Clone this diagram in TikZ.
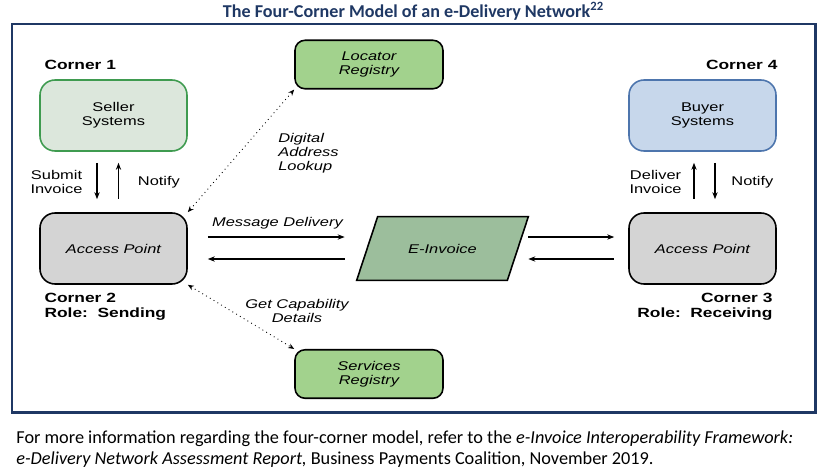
\documentclass[tikz,border=0pt]{standalone}
\usepackage{fontspec}
\setmainfont{Carlito}
\newfontfamily\diagfont[FakeStretch=1.3]{Liberation Sans}
\usepackage{xcolor}
\usetikzlibrary{positioning, arrows.meta, backgrounds}

\definecolor{framenavy}{HTML}{1F3864}
\definecolor{sellerfill}{HTML}{DCE7DC}
\definecolor{sellerline}{HTML}{3F9B50}
\definecolor{buyerfill}{HTML}{C7D7EB}
\definecolor{buyerline}{HTML}{4D75AD}
\definecolor{apfill}{HTML}{D4D4D4}
\definecolor{regfill}{HTML}{A2D28D}
\definecolor{invfill}{HTML}{9CBE9C}

\begin{document}
\begin{tikzpicture}[x=0.02cm, y=-0.02cm, >={Stealth[length=4pt, width=3pt]},
    lbl/.style={font=\diagfont\fontsize{7.2}{8}\selectfont, align=center},
    itlbl/.style={font=\diagfont\itshape\fontsize{7.2}{8}\selectfont},
    cornerlbl/.style={font=\diagfont\bfseries\fontsize{7.6}{8.5}\selectfont, inner sep=0pt},
    sysbox/.style={lbl, draw, line width=0.9pt, rounded corners=0.3cm, minimum width=2.94cm, minimum height=1.42cm},
    apbox/.style={sysbox, itlbl, fill=apfill, draw=black},
    regbox/.style={itlbl, align=center, draw, fill=regfill, line width=0.9pt, rounded corners=0.2cm, minimum width=2.96cm, minimum height=0.97cm},
    flow/.style={line width=0.6pt},
    lookup/.style={dotted, line width=0.5pt, >={Stealth[length=3.5pt, width=2.8pt]}}]
    \useasboundingbox (0,0) rectangle (825,474);
    \node[font=\bfseries\fontsize{10.3}{12}\selectfont, text=framenavy, anchor=base] (title) at (413.5,17) {The Four-Corner Model of an e-Delivery Network\textsuperscript{22}};
    \draw[framenavy, line width=1.7pt] (12,24) rectangle (815,412);

    \node[sysbox, fill=sellerfill, draw=sellerline] (seller) at (113.5,115.5) {Seller\\Systems};
    \node[apbox] (apL) at (113.5,248.5) {Access Point};
    \node[sysbox, fill=buyerfill, draw=buyerline] (buyer) at (702.5,115.5) {Buyer\\Systems};
    \node[apbox] (apR) at (702.5,248.5) {Access Point};
    \node[regbox] (loc) at (369,64.5) {Locator\\Registry};
    \node[regbox] (srv) at (369,374) {Services\\Registry};
    \node[itlbl, minimum width=3cm, minimum height=1.26cm] (einv) at (442.5,248.5) {E-Invoice};
    \begin{pgfonlayer}{background}
      \draw[fill=invfill, line width=0.9pt] ([xshift=0.21cm]einv.north west) -- ([xshift=0.21cm]einv.north east) -- ([xshift=-0.21cm]einv.south east) -- ([xshift=-0.21cm]einv.south west) -- cycle;
    \end{pgfonlayer}

    \node[cornerlbl, anchor=south west] (c1) at ([xshift=0.1cm, yshift=0.18cm]seller.north west) {Corner 1};
    \node[cornerlbl, anchor=south east] (c4) at ([xshift=0.02cm, yshift=0.18cm]buyer.north east) {Corner 4};
    \node[cornerlbl, anchor=north west, align=left] (c2) at ([xshift=0.1cm, yshift=-0.16cm]apL.south west) {Corner 2\\Role:\ \ Sending};
    \node[cornerlbl, anchor=north east, align=right] (c3) at ([xshift=-0.08cm, yshift=-0.16cm]apR.south east) {Corner 3\\Role:\ \ Receiving};

    % corner 1 <-> corner 2
    \draw[flow, ->, shorten <=0.22cm, shorten >=0.26cm] ([xshift=-0.33cm]seller.south) -- ([xshift=-0.33cm]apL.north) node[lbl, midway, left=0.16cm] {Submit\\Invoice};
    \draw[flow, <-, shorten <=0.22cm, shorten >=0.26cm] ([xshift=0.1cm]seller.south) -- ([xshift=0.1cm]apL.north) node[lbl, midway, right=0.26cm] {Notify};
    % corner 3 <-> corner 4
    \draw[flow, <-, shorten <=0.22cm, shorten >=0.26cm] ([xshift=-0.17cm]buyer.south) -- ([xshift=-0.17cm]apR.north) node[lbl, midway, left=0.12cm] {Deliver\\Invoice};
    \draw[flow, ->, shorten <=0.22cm, shorten >=0.26cm] ([xshift=0.25cm]buyer.south) -- ([xshift=0.25cm]apR.north) node[lbl, midway, right=0.2cm] {Notify};

    % message delivery
    \draw[flow, ->, shorten <=0.4cm, shorten >=0.45cm] ([yshift=0.23cm]apL.east) -- ([yshift=0.23cm]einv.west) node[itlbl, midway, above=1pt] {Message Delivery};
    \draw[flow, <-, shorten <=0.4cm, shorten >=0.45cm] ([yshift=-0.21cm]apL.east) -- ([yshift=-0.21cm]einv.west);
    \draw[flow, ->, shorten <=0.21cm, shorten >=0.28cm] ([yshift=0.23cm]einv.east) -- ([yshift=0.23cm]apR.west);
    \draw[flow, <-, shorten <=0.21cm, shorten >=0.28cm] ([yshift=-0.21cm]einv.east) -- ([yshift=-0.21cm]apR.west);

    % registry lookups
    \draw[lookup, <->] (apL.north east) -- (loc.south west) node[itlbl, midway, anchor=west, xshift=0.62cm, yshift=-0.04cm, align=left] {Digital\\Address\\Lookup};
    \draw[lookup, <->] (apL.south east) -- (srv.north west) node[itlbl, midway, xshift=1.12cm, yshift=0.12cm, align=center] {Get Capability\\Details};

    \node[font=\fontsize{10.4}{12}\selectfont, anchor=north west, inner sep=0pt, align=left] (note) at (16,430) {For more information regarding the four-corner model, refer to the \textit{e-Invoice Interoperability Framework:}\\\textit{e-Delivery Network Assessment Report,} Business Payments Coalition, November 2019.};
\end{tikzpicture}
\end{document}
